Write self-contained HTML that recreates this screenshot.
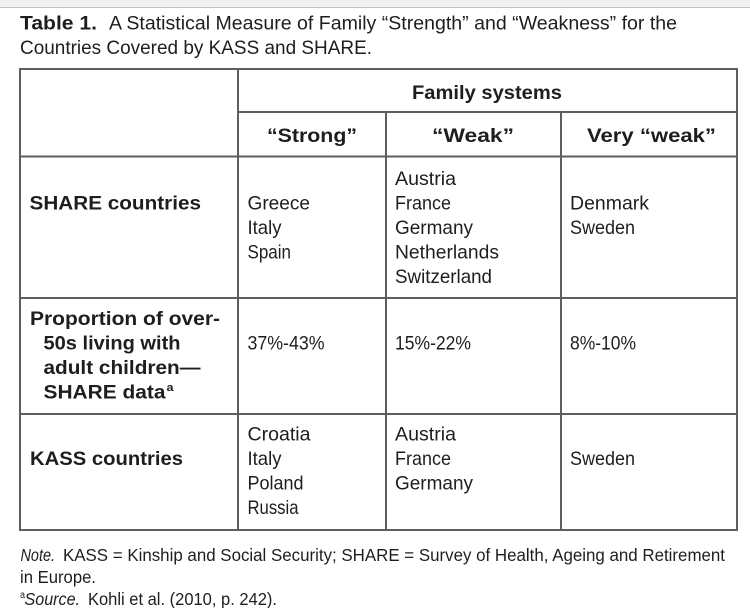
<!DOCTYPE html>
<html>
<head>
<meta charset="utf-8">
<style>
  html,body{margin:0;padding:0;background:#fff;}
  body{width:750px;height:608px;overflow:hidden;}
  svg{display:block;}
  text{font-family:"Liberation Sans", sans-serif;fill:#1e1e1e;}
  .t{font-size:19.5px;}
  .b{font-size:19.5px;font-weight:bold;}
  .f{font-size:17.4px;}
  .fi{font-size:17.4px;font-style:italic;}
</style>
</head>
<body>
<svg width="750" height="608" viewBox="0 0 750 608" xmlns="http://www.w3.org/2000/svg">
  <rect x="0" y="0" width="750" height="608" fill="#ffffff"/>
  <rect x="0" y="0" width="750" height="7" fill="#f1f1f1"/>
  <line x1="0" y1="7.5" x2="750" y2="7.5" stroke="#c4c4c4" stroke-width="1"/>

  <!-- Title -->
  <text class="b" x="20" y="29.5" textLength="77" lengthAdjust="spacingAndGlyphs">Table 1.</text>
  <text class="t" x="109" y="29.5" textLength="568" lengthAdjust="spacingAndGlyphs">A Statistical Measure of Family “Strength” and “Weakness” for the</text>
  <text class="t" x="20" y="54" textLength="352" lengthAdjust="spacingAndGlyphs">Countries Covered by KASS and SHARE.</text>

  <!-- Table grid -->
  <g stroke="#5e5e5e" stroke-width="2" fill="none">
    <rect x="20" y="69" width="717" height="461"/>
    <line x1="238" y1="69" x2="238" y2="530"/>
    <line x1="386" y1="112" x2="386" y2="530"/>
    <line x1="561" y1="112" x2="561" y2="530"/>
    <line x1="238" y1="112" x2="737" y2="112"/>
    <line x1="20" y1="156.5" x2="737" y2="156.5"/>
    <line x1="20" y1="298" x2="737" y2="298"/>
    <line x1="20" y1="414" x2="737" y2="414"/>
  </g>

  <!-- Header -->
  <text class="b" x="412" y="99" textLength="150" lengthAdjust="spacingAndGlyphs">Family systems</text>
  <text class="b" x="267" y="142" textLength="90" lengthAdjust="spacingAndGlyphs">“Strong”</text>
  <text class="b" x="432" y="142" textLength="82" lengthAdjust="spacingAndGlyphs">“Weak”</text>
  <text class="b" x="587" y="142" textLength="129" lengthAdjust="spacingAndGlyphs">Very “weak”</text>

  <!-- Row 1 -->
  <text class="b" x="29.5" y="209.5" textLength="171.5" lengthAdjust="spacingAndGlyphs">SHARE countries</text>
  <text class="t" x="247.5" y="209.5" textLength="62.5" lengthAdjust="spacingAndGlyphs">Greece</text>
  <text class="t" x="247.5" y="234" textLength="34" lengthAdjust="spacingAndGlyphs">Italy</text>
  <text class="t" x="247.5" y="258.5" textLength="43.5" lengthAdjust="spacingAndGlyphs">Spain</text>
  <text class="t" x="395" y="185" textLength="61" lengthAdjust="spacingAndGlyphs">Austria</text>
  <text class="t" x="395" y="209.5" textLength="56" lengthAdjust="spacingAndGlyphs">France</text>
  <text class="t" x="395" y="234" textLength="78" lengthAdjust="spacingAndGlyphs">Germany</text>
  <text class="t" x="395" y="258.5" textLength="104" lengthAdjust="spacingAndGlyphs">Netherlands</text>
  <text class="t" x="395" y="283" textLength="97" lengthAdjust="spacingAndGlyphs">Switzerland</text>
  <text class="t" x="570" y="209.5" textLength="79" lengthAdjust="spacingAndGlyphs">Denmark</text>
  <text class="t" x="570" y="234" textLength="65" lengthAdjust="spacingAndGlyphs">Sweden</text>

  <!-- Row 2 -->
  <text class="b" x="30" y="325" textLength="190" lengthAdjust="spacingAndGlyphs">Proportion of over-</text>
  <text class="b" x="43.5" y="349.5" textLength="137" lengthAdjust="spacingAndGlyphs">50s living with</text>
  <text class="b" x="43.5" y="374" textLength="157" lengthAdjust="spacingAndGlyphs">adult children—</text>
  <text class="b" x="43.5" y="398.5" textLength="122" lengthAdjust="spacingAndGlyphs">SHARE data</text>
  <text class="b" x="166.5" y="391" style="font-size:11px" textLength="7" lengthAdjust="spacingAndGlyphs">a</text>
  <text class="t" x="247.5" y="349.5" textLength="77" lengthAdjust="spacingAndGlyphs">37%-43%</text>
  <text class="t" x="395" y="349.5" textLength="76" lengthAdjust="spacingAndGlyphs">15%-22%</text>
  <text class="t" x="570" y="349.5" textLength="66" lengthAdjust="spacingAndGlyphs">8%-10%</text>

  <!-- Row 3 -->
  <text class="b" x="30" y="465" textLength="153" lengthAdjust="spacingAndGlyphs">KASS countries</text>
  <text class="t" x="247.5" y="440.5" textLength="63" lengthAdjust="spacingAndGlyphs">Croatia</text>
  <text class="t" x="247.5" y="465" textLength="34" lengthAdjust="spacingAndGlyphs">Italy</text>
  <text class="t" x="247.5" y="489.5" textLength="56" lengthAdjust="spacingAndGlyphs">Poland</text>
  <text class="t" x="247.5" y="514" textLength="51" lengthAdjust="spacingAndGlyphs">Russia</text>
  <text class="t" x="395" y="440.5" textLength="61" lengthAdjust="spacingAndGlyphs">Austria</text>
  <text class="t" x="395" y="465" textLength="56" lengthAdjust="spacingAndGlyphs">France</text>
  <text class="t" x="395" y="489.5" textLength="78" lengthAdjust="spacingAndGlyphs">Germany</text>
  <text class="t" x="570" y="465" textLength="65" lengthAdjust="spacingAndGlyphs">Sweden</text>

  <!-- Footnotes -->
  <text class="fi" x="20.5" y="561" textLength="34.5" lengthAdjust="spacingAndGlyphs">Note.</text>
  <text class="f" x="63" y="561" textLength="662" lengthAdjust="spacingAndGlyphs">KASS = Kinship and Social Security; SHARE = Survey of Health, Ageing and Retirement</text>
  <text class="f" x="20" y="583" textLength="76" lengthAdjust="spacingAndGlyphs">in Europe.</text>
  <text class="f" x="20" y="598" style="font-size:10px" textLength="5" lengthAdjust="spacingAndGlyphs">a</text>
  <text class="fi" x="24.5" y="605" textLength="55.5" lengthAdjust="spacingAndGlyphs">Source.</text>
  <text class="f" x="88" y="605" textLength="189" lengthAdjust="spacingAndGlyphs">Kohli et al. (2010, p. 242).</text>
</svg>
</body>
</html>
